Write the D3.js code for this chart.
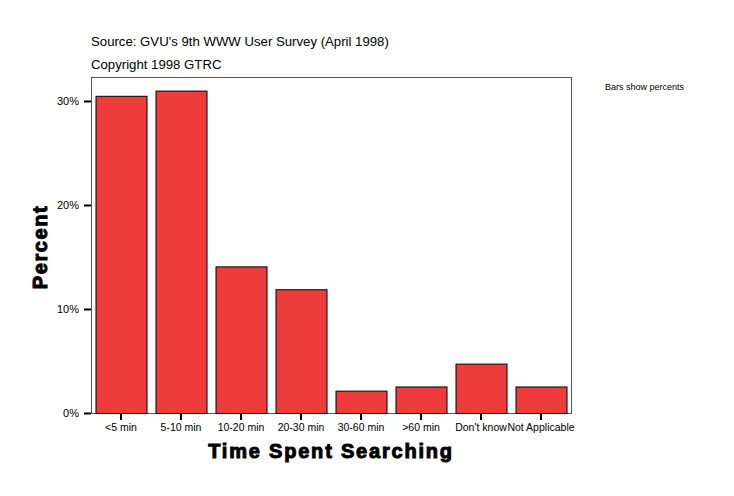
<!DOCTYPE html>
<html>
<head>
<meta charset="utf-8">
<script src="https://d3js.org/d3.v7.min.js"></script>
<style>
  body { margin: 0; background: #fff; }
  text { font-family: "Liberation Sans", Arial, sans-serif; }
</style>
</head>
<body>
<div id="chart"></div>
<script>
// data
const categories = ["<5 min", "5-10 min", "10-20 min", "20-30 min", "30-60 min", ">60 min", "Don't know", "Not Applicable"];
const percents = [30.5, 31.0, 14.1, 11.9, 2.15, 2.55, 4.75, 2.55];
const yTicks = [0, 10, 20, 30];

const width = 734, height = 496;
const margin = {left: 91, right: 163, top: 77, bottom: 83};
const plotW = width - margin.left - margin.right;
const plotH = height - margin.top - margin.bottom;

const svg = d3.select("#chart").append("svg")
    .attr("width", width)
    .attr("height", height);

const x = d3.scaleBand()
    .domain(categories)
    .range([0, plotW])
    .paddingInner(0.15)
    .paddingOuter(0.075);

const y = d3.scaleLinear()
    .domain([0, 30])
    .range([plotH, plotH - 312]);

const g = svg.append("g").attr("transform", `translate(${margin.left},${margin.top})`);

// frame
g.append("rect")
    .attr("x", 0.5).attr("y", 0.5)
    .attr("width", plotW).attr("height", plotH)
    .attr("fill", "none")
    .attr("stroke", "#555")
    .attr("stroke-width", 1);

// bars
g.selectAll("rect.bar")
    .data(percents)
    .join("rect")
    .attr("class", "bar")
    .attr("x", (d, i) => x(categories[i]) + 0.5)
    .attr("y", d => y(d) + 0.5)
    .attr("width", x.bandwidth())
    .attr("height", d => y(0) - y(d))
    .attr("fill", "#ee3b3b")
    .attr("stroke", "#000")
    .attr("stroke-width", 1);

// y axis
const yAxis = g.append("g")
    .call(d3.axisLeft(y).tickValues(yTicks).tickFormat(d => d + "%").tickSize(7).tickPadding(5));
yAxis.select(".domain").remove();
yAxis.selectAll(".tick line").attr("stroke", "#000").attr("stroke-width", 2);
yAxis.selectAll(".tick text").attr("font-size", 11).attr("fill", "#000")
    .style("font-family", "'Liberation Sans', Arial, sans-serif");

// x axis
const xAxis = g.append("g")
    .attr("transform", `translate(0,${plotH})`)
    .call(d3.axisBottom(x).tickSize(7).tickPadding(4));
xAxis.select(".domain").remove();
xAxis.selectAll(".tick line").attr("stroke", "#000").attr("stroke-width", 2);
xAxis.selectAll(".tick text").attr("font-size", 10.5).attr("fill", "#000")
    .style("font-family", "'Liberation Sans', Arial, sans-serif");

// titles
svg.append("text")
    .attr("x", 91).attr("y", 46)
    .attr("font-size", 13.2)
    .text("Source: GVU's 9th WWW User Survey (April 1998)");
svg.append("text")
    .attr("x", 91).attr("y", 69)
    .attr("font-size", 13.2)
    .text("Copyright 1998 GTRC");
svg.append("text")
    .attr("x", 605).attr("y", 90)
    .attr("font-size", 9)
    .text("Bars show percents");

// axis titles
svg.append("text")
    .attr("x", margin.left + plotW / 2).attr("y", 458)
    .attr("text-anchor", "middle")
    .attr("font-size", 20)
    .attr("font-weight", "bold")
    .attr("stroke", "#000").attr("stroke-width", 1)
    .attr("letter-spacing", 1.8)
    .text("Time Spent Searching");
svg.append("text")
    .attr("transform", "translate(47,247) rotate(-90)")
    .attr("text-anchor", "middle")
    .attr("font-size", 20)
    .attr("font-weight", "bold")
    .attr("stroke", "#000").attr("stroke-width", 1)
    .attr("letter-spacing", 1.6)
    .text("Percent");
</script>
</body>
</html>
